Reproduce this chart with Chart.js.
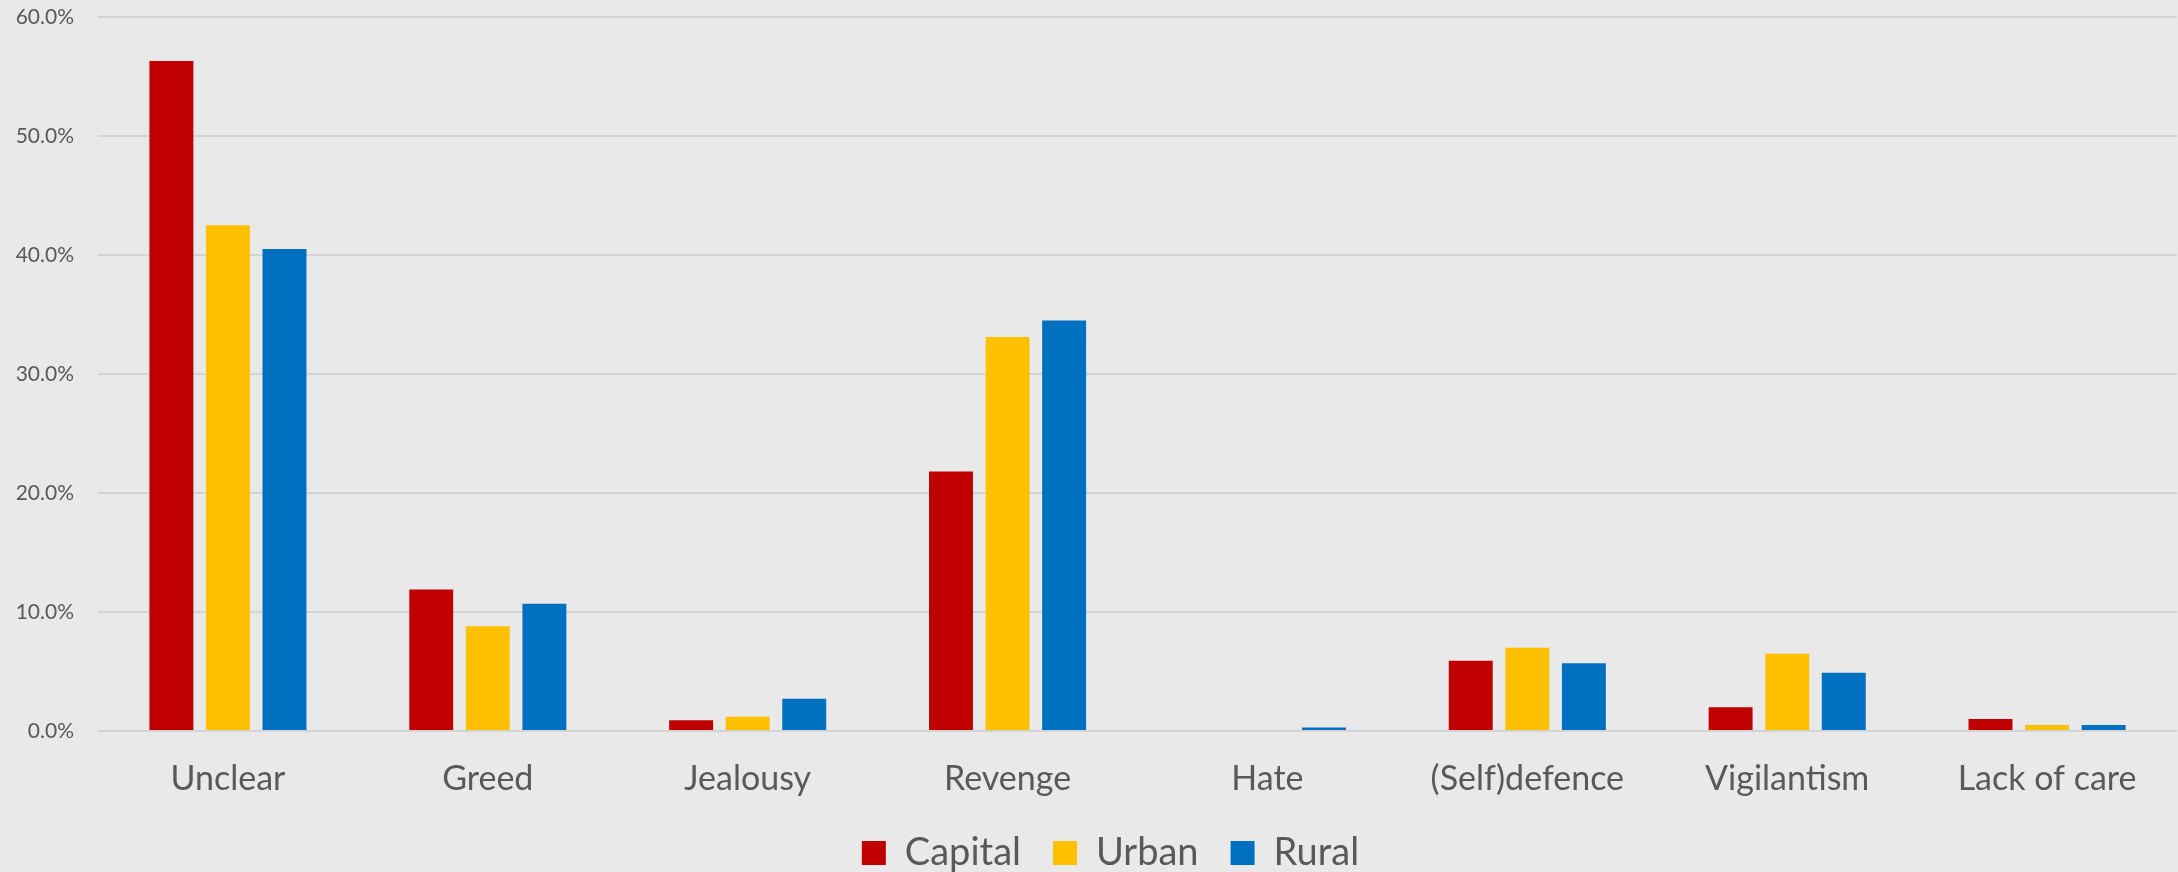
<!DOCTYPE html>
<html>
<head>
<meta charset="utf-8">
<script src="https://cdn.jsdelivr.net/npm/chart.js@4.4.1/dist/chart.umd.min.js"></script>
<style>
  html, body { margin: 0; padding: 0; background: #e9e9e9; }
  #wrap { width: 2178px; height: 872px; position: relative; }
  canvas { display: block; }
</style>
</head>
<body>
<div id="wrap"><canvas id="c" width="2178" height="872"></canvas></div>
<script>
const categories = ["Unclear", "Greed", "Jealousy", "Revenge", "Hate", "(Self)defence", "Vigilantism", "Lack of care"];
const capital = [56.3, 11.9, 0.9, 21.8, 0, 5.9, 2.0, 1.0];
const urban   = [42.5, 8.8, 1.2, 33.1, 0, 7.0, 6.5, 0.5];
const rural   = [40.5, 10.7, 2.7, 34.5, 0.3, 5.7, 4.9, 0.5];
const seriesNames = ["Capital", "Urban", "Rural"];
const yTicks = [0, 10, 20, 30, 40, 50, 60];

const colors = ["#C00000", "#FFC000", "#0070C0"];
const textColor = "#595959";
const fontFamily = "Lato, 'Open Sans', sans-serif";

const legendShift = {
  id: "legendShift",
  afterLayout(chart) {
    const lg = chart.legend;
    const dx = 22, dy = 5;
    lg.left += dx; lg.right += dx; lg.top += dy; lg.bottom += dy;
  }
};

new Chart(document.getElementById("c"), {
  type: "bar",
  data: {
    labels: categories,
    datasets: [capital, urban, rural].map((d, i) => ({
      label: seriesNames[i],
      data: d,
      backgroundColor: colors[i],
      borderWidth: 0,
      categoryPercentage: 0.653,
      barPercentage: 0.777
    }))
  },
  options: {
    responsive: false,
    animation: false,
    layout: { autoPadding: false, padding: { top: 17, right: 1, left: 0, bottom: -5 } },
    plugins: {
      tooltip: { enabled: false },
      legend: {
        position: "bottom",
        labels: {
          boxWidth: 24,
          boxHeight: 24,
          padding: 32,
          color: textColor,
          font: { family: fontFamily, size: 38 }
        }
      }
    },
    scales: {
      x: {
        afterFit: (s) => { s.height = 66; },
        grid: { display: false },
        border: { display: false },
        ticks: {
          color: textColor,
          padding: 20,
          maxRotation: 0,
          font: { family: fontFamily, size: 34 }
        }
      },
      y: {
        min: yTicks[0],
        max: yTicks[yTicks.length - 1],
        afterBuildTicks: (s) => { s.ticks = yTicks.map(v => ({ value: v })); },
        afterFit: (s) => { s.width = 98; s.paddingTop = 0; s.paddingBottom = 0; },
        grid: { color: "#d4d4d4", lineWidth: 2, drawTicks: false },
        border: { display: false },
        ticks: {
          color: textColor,
          padding: 24,
          font: { family: fontFamily, size: 21 },
          callback: (v) => v.toFixed(1) + "%"
        }
      }
    }
  },
  plugins: [legendShift]
});
</script>
</body>
</html>
